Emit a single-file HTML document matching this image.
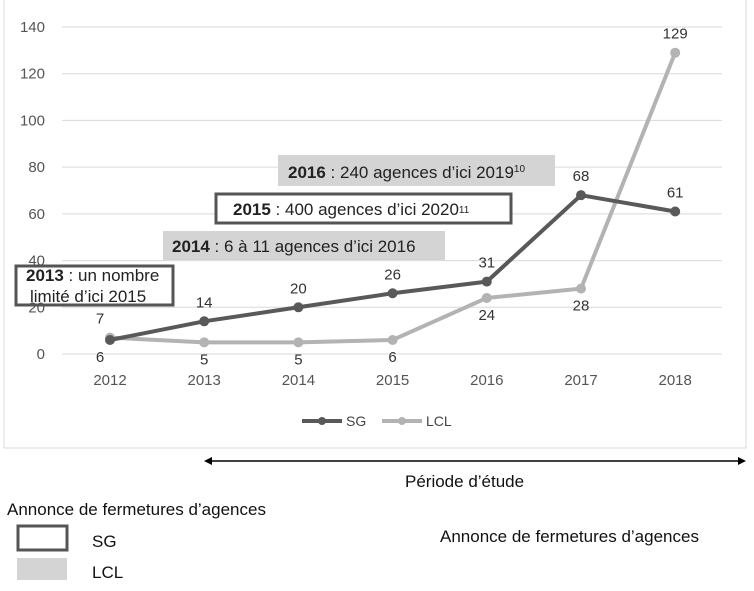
<!DOCTYPE html>
<html><head><meta charset="utf-8"><style>
body{margin:0;background:#fff;}
svg{display:block;font-family:"Liberation Sans",sans-serif;}
</style></head><body>
<svg id="c" width="754" height="591" viewBox="0 0 754 591">
<rect x="4" y="-2" width="742" height="450" fill="#fff" stroke="#d9d9d9"/>
<g id="grid"></g><g id="ylab"></g><g id="xlab"></g>
<g id="ann">
<rect x="278" y="155" width="277" height="31" fill="#d4d4d4"/>
<text x="288" y="178" font-size="17" fill="#222"><tspan font-weight="bold">2016</tspan> : 240 agences d’ici 2019<tspan font-size="10" dy="-6">10</tspan></text>
<rect x="216" y="194" width="295" height="29" fill="#fff" stroke="#555" stroke-width="3"/>
<text x="233" y="215" font-size="17" fill="#222"><tspan font-weight="bold">2015</tspan> : 400 agences  d’ici 2020<tspan font-size="10" dy="-2">11</tspan></text>
<rect x="163" y="231" width="282" height="29" fill="#d4d4d4"/>
<text x="172" y="252" font-size="17" fill="#222"><tspan font-weight="bold">2014</tspan> : 6 à 11 agences d’ici 2016</text>
<rect x="16" y="266" width="157" height="39" fill="none" stroke="#555" stroke-width="3"/>
<text x="26" y="281" font-size="17" fill="#222"><tspan font-weight="bold">2013</tspan> : un nombre</text>
<text x="30" y="302" font-size="17" fill="#222">limité  d’ici 2015</text>
</g>
<g id="series"></g>
<g>
<line x1="302" y1="421" x2="342" y2="421" stroke="#595959" stroke-width="4"/><circle cx="322" cy="421" r="4" fill="#595959"/>
<text x="346" y="426" font-size="14" fill="#444">SG</text>
<line x1="382" y1="421" x2="422" y2="421" stroke="#b3b3b3" stroke-width="4"/><circle cx="402" cy="421" r="4" fill="#b3b3b3"/>
<text x="426" y="426" font-size="14" fill="#444">LCL</text>
</g>
<g>
<line x1="210" y1="461" x2="740" y2="461" stroke="#000" stroke-width="1.5"/>
<polygon points="204,461 212,457 212,465" fill="#000"/><polygon points="746,461 738,457 738,465" fill="#000"/>
</g>
<text x="405" y="487" font-size="17" fill="#111">Période d’étude</text>
<text x="7" y="515" font-size="17" fill="#111">Annonce de fermetures d’agences</text>
<rect x="18" y="526" width="49" height="24" fill="#fff" stroke="#555" stroke-width="3"/>
<text x="92" y="547" font-size="17" fill="#111">SG</text>
<rect x="17" y="558" width="50" height="22" fill="#d4d4d4"/>
<text x="92" y="578" font-size="17" fill="#111">LCL</text>
<text x="440" y="542" font-size="17" fill="#111">Annonce de fermetures d’agences</text>
</svg>
<script>
const categories=["2012","2013","2014","2015","2016","2017","2018"];
const sgValues=[6,14,20,26,31,68,61];
const lclValues=[7,5,5,6,24,28,129];
const yTicks=[0,20,40,60,80,100,120,140];
const NS="http://www.w3.org/2000/svg";
const x=i=>110+i*94.2;
const y=v=>354-v*(327/140);
function mk(t,a,p,txt){const e=document.createElementNS(NS,t);for(const k in a)e.setAttribute(k,a[k]);if(txt!==undefined)e.textContent=txt;p.appendChild(e);return e;}
const grid=document.getElementById('grid'),yl=document.getElementById('ylab'),xl=document.getElementById('xlab'),S=document.getElementById('series');
yTicks.forEach(v=>{
 const g=mk('line',{x1:62,x2:722,y1:y(v),y2:y(v),stroke:'#d9d9d9'},grid);
 
 
 const t=mk('text',{x:45,y:y(v)+5,'text-anchor':'end','font-size':15,fill:'#555'},yl,v);
 
 
});
categories.forEach((c,i)=>{
 const t=mk('text',{x:x(i),y:385,'text-anchor':'middle','font-size':15,fill:'#555'},xl,c);
 
 
});
function series(vals,col,name,labelAbove){
 const pl=mk('polyline',{points:vals.map((v,i)=>x(i)+','+y(v)).join(' '),fill:'none',stroke:col,'stroke-width':4,'stroke-linejoin':'round'},S);
 
 
 vals.forEach((v,i)=>{
  const c=mk('circle',{cx:x(i),cy:y(v),r:5,fill:col},S);
  
  
  const above=labelAbove(i);
  const t=mk('text',{x:x(i)-(i==0?10:0),y:above?y(v)-14:y(v)+22,'text-anchor':'middle','font-size':15,fill:'#333'},S,v);
  
  
 });
}
series(lclValues,'#b3b3b3','lcl',i=>i==0||i==6);
series(sgValues,'#595959','sg',i=>i!=0);
</script>
</body></html>
